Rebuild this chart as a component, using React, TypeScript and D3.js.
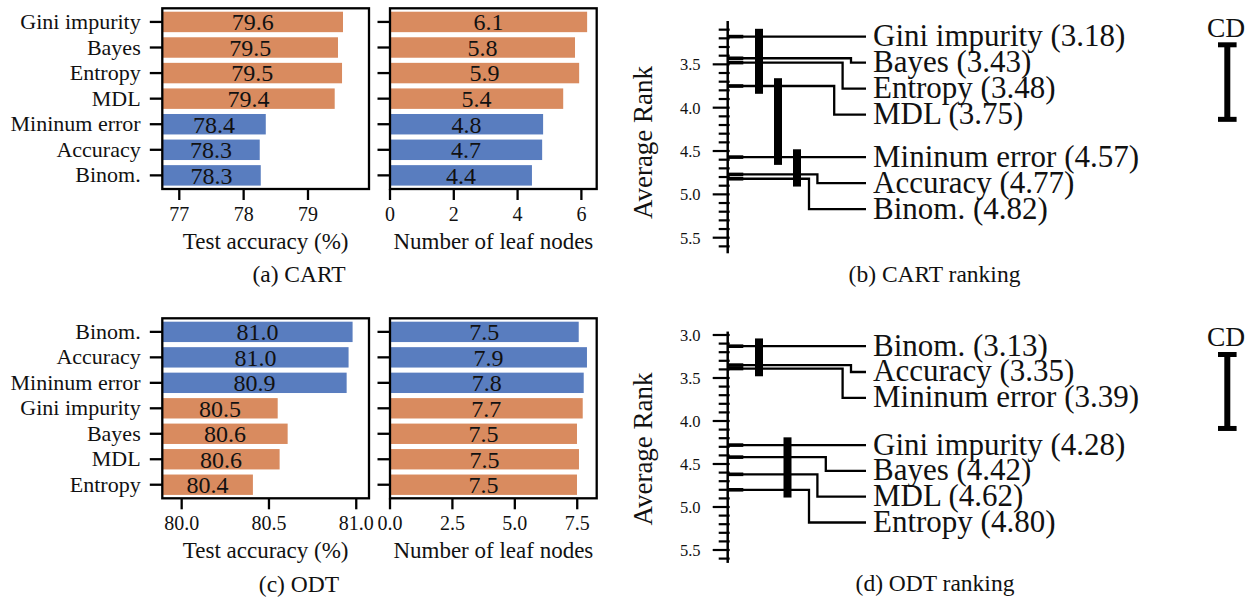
import React from 'react';
import * as d3 from 'd3';

const FONT = '"Liberation Serif", "Times New Roman", serif';
const BLUE = '#597dbf';
const ORANGE = '#d98b5f';

// ---- CART (panel a) ----
const cartMethods = ['Gini impurity', 'Bayes', 'Entropy', 'MDL', 'Mininum error', 'Accuracy', 'Binom.'];
const cartGroups = ['o', 'o', 'o', 'o', 'b', 'b', 'b'];
const cartAcc = [79.544, 79.466, 79.529, 79.415, 78.344, 78.25, 78.266];
const cartAccLabels = ['79.6', '79.5', '79.5', '79.4', '78.4', '78.3', '78.3'];
const cartLeaves = [6.18, 5.8, 5.93, 5.43, 4.8, 4.77, 4.45];
const cartLeafLabels = ['6.1', '5.8', '5.9', '5.4', '4.8', '4.7', '4.4'];
const cartAccTicks = [77, 78, 79];
const cartLeafTicks = [0, 2, 4, 6];

// ---- ODT (panel c) ----
const odtMethods = ['Binom.', 'Accuracy', 'Mininum error', 'Gini impurity', 'Bayes', 'MDL', 'Entropy'];
const odtGroups = ['b', 'b', 'b', 'o', 'o', 'o', 'o'];
const odtAcc = [80.979, 80.956, 80.945, 80.55, 80.607, 80.561, 80.408];
const odtAccLabels = ['81.0', '81.0', '80.9', '80.5', '80.6', '80.6', '80.4'];
const odtLeaves = [7.56, 7.89, 7.76, 7.72, 7.49, 7.57, 7.49];
const odtLeafLabels = ['7.5', '7.9', '7.8', '7.7', '7.5', '7.5', '7.5'];
const odtAccTicks = [80.0, 80.5, 81.0];
const odtLeafTicks = [0, 2.5, 5.0, 7.5];

// ---- Rankings (panels b, d) ----
const cartRankNames = ['Gini impurity', 'Bayes', 'Entropy', 'MDL', 'Mininum error', 'Accuracy', 'Binom.'];
const cartRanks = [3.18, 3.43, 3.48, 3.75, 4.57, 4.77, 4.82];
const cartCliques = [[0, 3], [3, 4], [4, 6]];
const odtRankNames = ['Binom.', 'Accuracy', 'Mininum error', 'Gini impurity', 'Bayes', 'MDL', 'Entropy'];
const odtRanks = [3.13, 3.35, 3.39, 4.28, 4.42, 4.62, 4.8];
const odtCliques = [[0, 2], [3, 6]];
const rankMajorTicks = [3.0, 3.5, 4.0, 4.5, 5.0, 5.5];
const cdValue = 0.86;

type BarProps = {
  x0: number; x1: number; y0: number; y1: number;
  domain: [number, number];
  categories: string[];
  groups: string[];
  values: number[];
  labels: string[];
  ticks: number[];
  tickFmt: (v: number) => string;
  xlabel: string;
  showCats: boolean;
};

function BarPanel(p: BarProps) {
  const x = d3.scaleLinear().domain(p.domain).range([p.x0, p.x1]);
  const y = d3.scaleBand<string>().domain(p.categories).range([p.y0, p.y1]).paddingInner(0.2).paddingOuter(0.133);
  const bw = y.bandwidth();
  const lw = 2.3;
  return (
    <g>
      {p.values.map((v, i) => {
        const c = p.categories[i];
        const yy = y(c)!;
        const xe = x(v);
        return (
          <g key={c}>
            <rect x={p.x0} y={yy} width={xe - p.x0} height={bw} fill={p.groups[i] === 'o' ? ORANGE : BLUE} />
            <text x={(p.x0 + xe) / 2} y={yy + bw / 2 + 8.3} textAnchor="middle" fontSize={24} fontFamily={FONT} fill="#111">{p.labels[i]}</text>
          </g>
        );
      })}
      <rect x={p.x0} y={p.y0} width={p.x1 - p.x0} height={p.y1 - p.y0} fill="none" stroke="#000" strokeWidth={lw} />
      {p.categories.map((c) => {
        const yc = y(c)! + bw / 2;
        return (
          <g key={'t' + c}>
            <line x1={p.x0 - 12.5} x2={p.x0} y1={yc} y2={yc} stroke="#000" strokeWidth={lw} />
            {p.showCats && (
              <text x={p.x0 - 21.6} y={yc + 7} textAnchor="end" fontSize={22} fontFamily={FONT} fill="#111">{c}</text>
            )}
          </g>
        );
      })}
      {p.ticks.map((t) => (
        <g key={'x' + t}>
          <line x1={x(t)} x2={x(t)} y1={p.y1} y2={p.y1 + 11} stroke="#000" strokeWidth={lw} />
          <text x={x(t)} y={p.y1 + 31.7} textAnchor="middle" fontSize={20} fontFamily={FONT} fill="#111">{p.tickFmt(t)}</text>
        </g>
      ))}
      <text x={(p.x0 + p.x1) / 2} y={p.y1 + 60} textAnchor="middle" fontSize={23} fontFamily={FONT} fill="#111">{p.xlabel}</text>
    </g>
  );
}

type RankProps = {
  names: string[];
  ranks: number[];
  cliques: number[][];
  y3: number; y55: number;
  axisLo: number; axisHi: number;
  minorStart: number;
  cdTop: number; cdTextY: number;
};

function RankPanel(p: RankProps) {
  const y = d3.scaleLinear().domain([3, 5.5]).range([p.y3, p.y55]);
  const ax = 727.7;
  const lineEnd = 866;
  const textX = 873;
  const lw = 2.3;
  // label positions: keep labels at least 0.3 rank apart
  const labelRanks: number[] = [];
  p.ranks.forEach((r, i) => {
    labelRanks.push(i === 0 ? r : Math.max(r, labelRanks[i - 1] + 0.3));
  });
  const stepX = (i: number) => 859.4 - 8.4 * i;
  const minor = d3.range(p.minorStart, 57).map((k) => k / 10);
  const n = p.cliques.length;
  return (
    <g>
      <line x1={ax} x2={ax} y1={y(p.axisLo)} y2={y(p.axisHi)} stroke="#000" strokeWidth={2.5} />
      {minor.map((t) => {
        const major = Math.abs(t * 2 - Math.round(t * 2)) < 1e-6;
        return (
          <line key={'m' + t} x1={ax - (major ? 15 : 9)} x2={ax + 2} y1={y(t)} y2={y(t)} stroke="#000" strokeWidth={2.2} />
        );
      })}
      {rankMajorTicks.filter((t) => t >= p.axisLo && t <= p.axisHi && t * 10 >= p.minorStart - 1e-6).map((t) => (
        <text key={'l' + t} x={700.5} y={y(t) + 6} textAnchor="end" fontSize={16.5} fontFamily={FONT} fill="#111">{t.toFixed(1)}</text>
      ))}
      {p.ranks.map((r, i) => {
        const yr = y(r);
        const yl = y(labelRanks[i]);
        const path = Math.abs(yl - yr) < 0.01
          ? `M${ax},${yr}H${lineEnd}`
          : `M${ax},${yr}H${stepX(i)}V${yl}H${lineEnd}`;
        return (
          <g key={'r' + i}>
            <path d={path} fill="none" stroke="#000" strokeWidth={lw} />
            <line x1={ax} x2={743.3} y1={yr} y2={yr} stroke="#000" strokeWidth={3.6} />
            <text x={textX} y={yl + 9.5} fontSize={31} fontFamily={FONT} fill="#111">{`${p.names[i]} (${r.toFixed(2)})`}</text>
          </g>
        );
      })}
      {p.cliques.map((c, k) => {
        const cx = 759 + (k * 57) / n;
        return (
          <line key={'c' + k} x1={cx} x2={cx} y1={y(p.ranks[c[0]] - 0.09)} y2={y(p.ranks[c[1]] + 0.09)} stroke="#000" strokeWidth={8} />
        );
      })}
      <g>
        <text x={1226} y={p.cdTextY} textAnchor="middle" fontSize={27.5} fontFamily={FONT} fill="#111">CD</text>
        <line x1={1227.3} x2={1227.3} y1={p.cdTop} y2={p.cdTop + (y(3 + cdValue) - y(3))} stroke="#000" strokeWidth={6} />
        <line x1={1218} x2={1236.6} y1={p.cdTop} y2={p.cdTop} stroke="#000" strokeWidth={5} />
        <line x1={1218} x2={1236.6} y1={p.cdTop + (y(3 + cdValue) - y(3))} y2={p.cdTop + (y(3 + cdValue) - y(3))} stroke="#000" strokeWidth={5} />
      </g>
    </g>
  );
}

export default function App() {
  const f0 = (v: number) => d3.format('d')(v);
  const f1 = (v: number) => d3.format('.1f')(v);
  return (
    <svg width={1249} height={599} style={{ position: 'absolute', left: 0, top: 0, background: '#fff' }}>
      <rect x={0} y={0} width={1249} height={599} fill="#fff" />
      {/* (a) CART */}
      <BarPanel x0={162.3} x1={369} y0={8.3} y1={189} domain={[76.736, 79.948]} categories={cartMethods} groups={cartGroups}
        values={cartAcc} labels={cartAccLabels} ticks={cartAccTicks} tickFmt={f0} xlabel="Test accuracy (%)" showCats={true} />
      <BarPanel x0={390} x1={596.7} y0={8.3} y1={189} domain={[0, 6.48]} categories={cartMethods} groups={cartGroups}
        values={cartLeaves} labels={cartLeafLabels} ticks={cartLeafTicks} tickFmt={f0} xlabel="Number of leaf nodes" showCats={false} />
      <text x={299} y={282} textAnchor="middle" fontSize={23.5} fontFamily={FONT} fill="#111">(a) CART</text>

      {/* (c) ODT */}
      <BarPanel x0={162.3} x1={369} y0={318.3} y1={498.3} domain={[79.889, 81.073]} categories={odtMethods} groups={odtGroups}
        values={odtAcc} labels={odtAccLabels} ticks={odtAccTicks} tickFmt={f1} xlabel="Test accuracy (%)" showCats={true} />
      <BarPanel x0={390} x1={596.7} y0={318.3} y1={498.3} domain={[0, 8.28]} categories={odtMethods} groups={odtGroups}
        values={odtLeaves} labels={odtLeafLabels} ticks={odtLeafTicks} tickFmt={f1} xlabel="Number of leaf nodes" showCats={false} />
      <text x={299} y={591.5} textAnchor="middle" fontSize={23.5} fontFamily={FONT} fill="#111">(c) ODT</text>

      {/* (b) CART ranking */}
      <RankPanel names={cartRankNames} ranks={cartRanks} cliques={cartCliques} y3={21} y55={237.7}
        axisLo={3.0} axisHi={5.68} minorStart={31} cdTop={44.8} cdTextY={36.7} />
      <text transform="translate(652,142.5) rotate(-90)" textAnchor="middle" fontSize={27} fontFamily={FONT} fill="#111">Average Rank</text>
      <text x={934.5} y={281.5} textAnchor="middle" fontSize={23.5} fontFamily={FONT} fill="#111">(b) CART ranking</text>

      {/* (d) ODT ranking */}
      <RankPanel names={odtRankNames} ranks={odtRanks} cliques={odtCliques} y3={335} y55={550}
        axisLo={2.96} axisHi={5.65} minorStart={30} cdTop={354.5} cdTextY={346} />
      <text transform="translate(652,449) rotate(-90)" textAnchor="middle" fontSize={27} fontFamily={FONT} fill="#111">Average Rank</text>
      <text x={935} y={591} textAnchor="middle" fontSize={23.5} fontFamily={FONT} fill="#111">(d) ODT ranking</text>
    </svg>
  );
}
